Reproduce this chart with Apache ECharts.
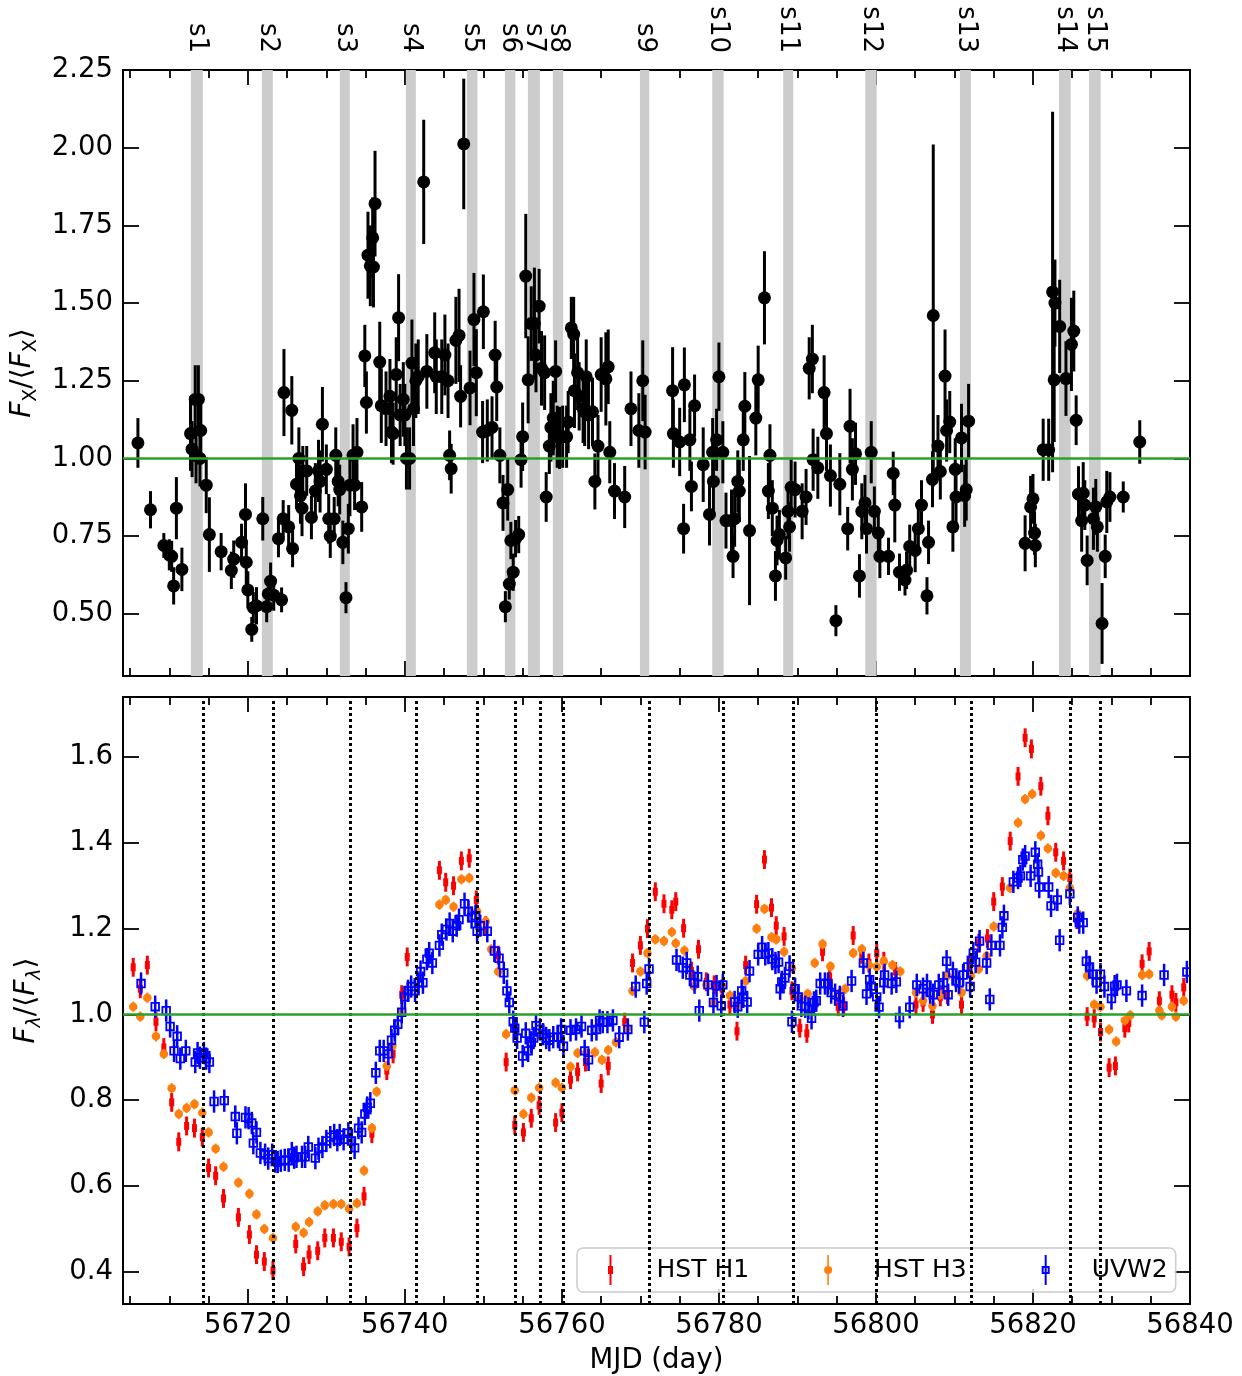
<!DOCTYPE html>
<html>
<head>
<meta charset="utf-8">
<script src="https://cdn.jsdelivr.net/npm/echarts@6/dist/echarts.min.js"></script>
<style>
  html, body { margin: 0; padding: 0; background: #fff; }
  #main { width: 1242px; height: 1376px; }
</style>
</head>
<body>
<div id="main"></div>
<script>
// X-ray light curve (top panel): time, flux ratio, error
var xrayT = [56706.0, 56707.6, 56709.3, 56710.0, 56710.3, 56710.55, 56710.9, 56711.6, 56712.7, 56712.9,
  56713.3, 56713.4, 56713.7, 56713.9, 56714.0, 56714.7, 56715.1, 56716.6, 56717.9, 56718.2,
  56719.2, 56719.7, 56719.8, 56720.0, 56720.5, 56720.7, 56721.1, 56721.9, 56722.4, 56722.6,
  56722.9, 56723.3, 56723.9, 56724.3, 56724.5, 56724.6, 56725.2, 56725.6, 56725.7, 56726.2,
  56726.5, 56726.7, 56726.9, 56727.0, 56727.5, 56728.1, 56728.6, 56729.0, 56729.2, 56729.5,
  56730.0, 56730.3, 56730.5, 56731.0, 56731.2, 56731.5, 56731.7, 56732.1, 56732.5, 56732.8,
  56733.0, 56733.4, 56733.6, 56733.9, 56734.5, 56734.9, 56735.1, 56735.3, 56735.6, 56735.9,
  56736.0, 56736.2, 56736.8, 56737.0, 56737.6, 56738.1, 56738.3, 56738.5, 56738.9, 56739.2,
  56739.4, 56739.8, 56740.0, 56740.2, 56740.6, 56740.9, 56741.1, 56741.4, 56741.7, 56742.4,
  56742.8, 56743.8, 56744.0, 56744.7, 56745.1, 56745.5, 56745.7, 56745.9, 56746.5, 56746.9,
  56747.1, 56747.5, 56748.3, 56748.8, 56749.1, 56749.9, 56750.0, 56750.5, 56751.1, 56751.5,
  56751.7, 56752.1, 56752.5, 56752.8, 56753.1, 56753.3, 56753.5, 56753.8, 56754.1, 56754.5,
  56754.8, 56755.0, 56755.4, 56755.7, 56756.1, 56756.5, 56756.7, 56757.1, 56757.4, 56757.8,
  56758.0, 56758.4, 56758.6, 56758.9, 56759.2, 56759.4, 56759.7, 56760.1, 56760.6, 56760.8,
  56761.2, 56761.5, 56761.6, 56762.0, 56762.2, 56762.7, 56762.9, 56763.1, 56763.4, 56763.9,
  56764.2, 56764.6, 56765.0, 56765.6, 56765.9, 56766.1, 56766.7, 56768.0, 56768.8, 56769.8,
  56770.3, 56770.6, 56774.1, 56774.2, 56775.0, 56775.5, 56775.6, 56776.3, 56776.5, 56776.9,
  56778.0, 56778.8, 56779.2, 56779.3, 56779.7, 56780.0, 56780.5, 56780.9, 56781.6, 56781.8,
  56782.0, 56782.4, 56782.6, 56783.1, 56783.3, 56783.9, 56784.7, 56785.0, 56785.8, 56786.3,
  56786.5, 56786.8, 56787.2, 56787.4, 56787.7, 56788.5, 56788.8, 56789.0, 56789.2, 56789.7,
  56790.6, 56791.1, 56791.5, 56791.9, 56792.0, 56792.6, 56793.4, 56793.7, 56794.2, 56794.9,
  56795.4, 56796.4, 56796.7, 56797.0, 56797.4, 56797.9, 56798.2, 56798.6, 56798.8, 56799.4,
  56799.8, 56800.3, 56800.5, 56801.6, 56802.2, 56802.4, 56803.0, 56803.7, 56803.9, 56804.3,
  56805.0, 56805.4, 56805.8, 56806.5, 56806.7, 56807.2, 56807.3, 56807.9, 56808.2, 56808.8,
  56809.0, 56809.4, 56809.8, 56810.1, 56810.2, 56810.9, 56811.3, 56811.5, 56811.8, 56819.0,
  56819.7, 56820.0, 56820.2, 56820.3, 56821.3, 56822.0, 56822.5, 56822.7, 56822.8, 56823.4,
  56824.2, 56824.9, 56825.2, 56825.5, 56825.8, 56826.2, 56826.4, 56826.6, 56826.9, 56827.7,
  56828.0, 56828.2, 56828.8, 56829.2, 56829.4, 56829.8, 56831.5, 56833.6];
var xrayF = [1.05, 0.835, 0.72, 0.69, 0.685, 0.59, 0.84, 0.643, 1.08, 1.03,
  1.19, 1.01, 1.19, 1.00, 1.09, 0.914, 0.755, 0.70, 0.64, 0.676,
  0.73, 0.82, 0.666, 0.577, 0.45, 0.52, 0.526, 0.806, 0.523, 0.564,
  0.605, 0.56, 0.742, 0.545, 0.806, 1.212, 0.78, 1.155, 0.71, 0.917,
  1.0, 0.88, 0.84, 0.96, 0.96, 0.81, 0.895, 0.96, 0.926, 1.11,
  0.965, 0.806, 0.75, 0.806, 1.01, 0.926, 0.90, 0.73, 0.552, 0.774,
  0.914, 1.01, 0.914, 1.02, 0.844, 1.33, 1.18, 1.654, 1.62, 1.71,
  1.616, 1.82, 1.31, 1.17, 1.16, 1.2, 1.085, 1.08, 1.27, 1.453,
  1.14, 1.19, 1.14, 1.0, 1.0, 1.307, 1.16, 1.25, 1.263, 1.89,
  1.28, 1.34, 1.263, 1.263, 1.333, 1.25, 1.01, 0.967, 1.38, 1.396,
  1.2, 2.012, 1.227, 1.447, 1.276, 1.085, 1.472, 1.09, 1.1, 1.333,
  1.23, 1.01, 0.857, 0.523, 0.9, 0.596, 0.736, 0.634, 0.742, 0.755,
  0.996, 1.07, 1.587, 1.253, 1.434, 1.434, 1.333, 1.49, 1.29, 1.276,
  0.876, 1.04, 1.1, 1.13, 1.28, 1.07, 1.066, 1.07, 1.07, 1.117,
  1.42, 1.40, 1.218, 1.276, 1.2, 1.16, 1.15, 1.263, 1.14, 1.15,
  0.926, 1.04, 1.27, 1.256, 1.295, 1.02, 0.895, 0.876, 1.16, 1.09,
  1.25, 1.085, 1.218, 1.08, 1.053, 0.774, 1.237, 1.06, 0.91, 1.17,
  0.98, 0.82, 1.02, 0.926, 1.06, 1.263, 1.02, 0.8, 0.8, 0.685,
  0.806, 0.926, 0.895, 1.06, 1.168, 0.768, 1.13, 1.253, 1.517, 0.895,
  1.01, 0.84, 0.622, 0.736, 0.755, 0.68, 0.83, 0.78, 0.907, 0.9,
  0.83, 0.876, 1.29, 1.32, 0.996, 0.97, 1.212, 1.08, 0.945, 0.478,
  0.917, 0.774, 1.104, 0.965, 1.015, 0.622, 0.83, 0.857, 0.774, 1.02,
  0.83, 0.76, 0.685, 0.685, 0.952, 0.85, 0.634, 0.609, 0.64, 0.717,
  0.704, 0.774, 0.85, 0.558, 0.73, 0.933, 1.46, 1.04, 0.958, 1.265,
  1.09, 1.117, 0.78, 0.965, 0.876, 1.066, 0.88, 0.9, 1.12, 0.727,
  0.844, 0.87, 0.76, 0.72, 1.028, 1.028, 1.536, 1.253, 1.50, 1.425,
  1.257, 1.367, 1.41, 1.123, 0.885, 0.8, 0.888, 0.85, 0.672, 0.806,
  0.844, 0.78, 0.469, 0.685, 0.86, 0.876, 0.876, 1.053];
var xrayE = [0.08, 0.06, 0.04, 0.05, 0.05, 0.06, 0.10, 0.07, 0.12, 0.09,
  0.11, 0.09, 0.11, 0.09, 0.09, 0.09, 0.12, 0.06, 0.06, 0.06,
  0.06, 0.10, 0.07, 0.06, 0.04, 0.05, 0.06, 0.07, 0.05, 0.05,
  0.06, 0.05, 0.06, 0.04, 0.06, 0.14, 0.07, 0.11, 0.06, 0.08,
  0.10, 0.09, 0.09, 0.08, 0.08, 0.07, 0.09, 0.10, 0.10, 0.12,
  0.08, 0.08, 0.07, 0.07, 0.09, 0.08, 0.08, 0.07, 0.05, 0.08,
  0.10, 0.10, 0.08, 0.11, 0.08, 0.10, 0.10, 0.14, 0.13, 0.13,
  0.13, 0.17, 0.13, 0.12, 0.12, 0.12, 0.10, 0.10, 0.12, 0.14,
  0.10, 0.12, 0.10, 0.10, 0.10, 0.14, 0.12, 0.12, 0.12, 0.20,
  0.12, 0.13, 0.12, 0.12, 0.13, 0.12, 0.08, 0.08, 0.14, 0.15,
  0.10, 0.21, 0.12, 0.15, 0.14, 0.10, 0.12, 0.10, 0.10, 0.11,
  0.11, 0.09, 0.09, 0.05, 0.10, 0.05, 0.06, 0.06, 0.06, 0.06,
  0.09, 0.11, 0.20, 0.14, 0.12, 0.18, 0.12, 0.12, 0.12, 0.12,
  0.08, 0.09, 0.11, 0.12, 0.10, 0.10, 0.10, 0.10, 0.10, 0.10,
  0.10, 0.12, 0.12, 0.12, 0.11, 0.11, 0.11, 0.12, 0.11, 0.11,
  0.09, 0.10, 0.12, 0.15, 0.12, 0.10, 0.09, 0.10, 0.12, 0.12,
  0.13, 0.12, 0.14, 0.11, 0.11, 0.08, 0.12, 0.10, 0.08, 0.10,
  0.12, 0.10, 0.11, 0.10, 0.10, 0.11, 0.10, 0.09, 0.10, 0.07,
  0.09, 0.10, 0.10, 0.10, 0.11, 0.24, 0.12, 0.11, 0.15, 0.09,
  0.10, 0.09, 0.08, 0.08, 0.08, 0.07, 0.09, 0.08, 0.09, 0.09,
  0.09, 0.09, 0.10, 0.11, 0.10, 0.10, 0.12, 0.12, 0.10, 0.05,
  0.10, 0.07, 0.12, 0.10, 0.10, 0.07, 0.09, 0.09, 0.08, 0.10,
  0.08, 0.08, 0.07, 0.06, 0.07, 0.12, 0.06, 0.05, 0.06, 0.07,
  0.07, 0.08, 0.08, 0.06, 0.07, 0.09, 0.55, 0.10, 0.09, 0.15,
  0.10, 0.10, 0.08, 0.10, 0.10, 0.11, 0.10, 0.10, 0.12, 0.09,
  0.10, 0.08, 0.07, 0.07, 0.10, 0.10, 0.58, 0.20, 0.14, 0.15,
  0.12, 0.15, 0.13, 0.08, 0.09, 0.10, 0.10, 0.08, 0.08, 0.10,
  0.09, 0.08, 0.13, 0.07, 0.10, 0.08, 0.05, 0.07];

// HST H1 continuum
var h1T = [56705.4, 56706.3, 56707.2, 56708.3, 56709.3, 56710.3, 56711.2, 56712.2, 56713.2, 56714.2,
  56715.0, 56715.9, 56716.9, 56718.8, 56720.2, 56721.1, 56722.1, 56723.2, 56726.1, 56727.1,
  56727.8, 56728.9, 56729.8, 56730.9, 56731.9, 56732.9, 56733.9, 56734.8, 56735.8, 56737.7,
  56738.5, 56739.6, 56740.3, 56744.4, 56745.2, 56746.2, 56747.2, 56748.2, 56749.1, 56750.3,
  56751.9, 56752.9, 56754.0, 56755.1, 56756.1, 56757.1, 56759.2, 56760.0, 56761.1, 56762.0,
  56763.0, 56765.0, 56765.9, 56768.0, 56769.0, 56770.0, 56770.9, 56771.9, 56773.0, 56774.0,
  56774.5, 56775.5, 56776.5, 56777.4, 56778.4, 56779.4, 56780.4, 56781.4, 56782.3, 56783.4,
  56784.8, 56785.8, 56786.7, 56787.3, 56788.3, 56789.3, 56790.3, 56791.2, 56793.2, 56794.1,
  56795.2, 56795.9, 56797.1, 56798.2, 56799.1, 56800.1, 56801.0, 56802.5, 56805.1, 56806.0,
  56807.2, 56808.2, 56809.1, 56810.9, 56812.0, 56813.1, 56814.2, 56815.0, 56816.1, 56817.1,
  56818.1, 56819.0, 56819.8, 56821.0, 56821.9, 56822.9, 56823.9, 56824.7, 56825.6, 56826.9,
  56827.8, 56828.6, 56829.7, 56830.5, 56831.7, 56832.2, 56833.9, 56834.8, 56836.1, 56837.7,
  56838.2, 56839.2];
var h1F = [1.11, 1.06, 1.115, 0.983, 0.923, 0.795, 0.703, 0.74, 0.735, 0.714,
  0.642, 0.624, 0.571, 0.527, 0.487, 0.44, 0.424, 0.403, 0.465, 0.412,
  0.44, 0.449, 0.479, 0.479, 0.47, 0.458, 0.502, 0.576, 0.722, 0.869,
  0.908, 1.046, 1.134, 1.336, 1.308, 1.30, 1.358, 1.364, 1.267, 1.207,
  1.138, 0.889, 0.742, 0.725, 0.758, 0.788, 0.748, 0.771, 0.848, 0.866,
  0.889, 0.839, 0.88, 0.982, 1.12, 1.161, 1.20, 1.286, 1.258, 1.244,
  1.263, 1.201, 1.101, 1.152, 1.076, 1.069, 1.06, 1.023, 0.961, 1.115,
  1.257, 1.361, 1.249, 1.207, 1.182, 1.055, 0.968, 0.956, 1.146, 1.088,
  1.018, 1.018, 1.184, 1.14, 1.12, 1.143, 1.124, 1.10, 1.023, 1.028,
  1.00, 1.041, 1.046, 1.023, 1.12, 1.166, 1.177, 1.263, 1.298, 1.404,
  1.555, 1.645, 1.619, 1.532, 1.463, 1.378, 1.358, 1.318, 1.221, 0.995,
  0.991, 0.959, 0.876, 0.88, 0.968, 0.98, 1.118, 1.147, 1.032, 1.046,
  1.028, 1.063];

// HST H3 continuum
var h3T = [56705.4, 56706.3, 56707.2, 56708.3, 56709.3, 56710.3, 56711.2, 56712.2, 56713.2, 56714.2,
  56715.0, 56715.9, 56716.9, 56718.8, 56720.2, 56721.1, 56722.1, 56723.2, 56726.1, 56727.1,
  56727.8, 56728.9, 56729.8, 56730.9, 56731.9, 56732.9, 56733.9, 56734.8, 56735.8, 56736.4,
  56737.7, 56738.4, 56739.6, 56744.4, 56745.2, 56746.2, 56747.2, 56748.2, 56749.2, 56750.3,
  56751.0, 56751.9, 56752.9, 56754.0, 56755.1, 56756.1, 56757.1, 56759.2, 56760.0, 56761.1,
  56762.0, 56763.1, 56764.2, 56765.1, 56765.9, 56766.9, 56768.3, 56769.0, 56770.0, 56770.9,
  56771.9, 56773.0, 56774.0, 56774.5, 56775.6, 56776.8, 56778.4, 56779.4, 56780.4, 56781.4,
  56782.4, 56783.4, 56784.8, 56785.8, 56786.7, 56787.3, 56788.3, 56789.3, 56790.3, 56791.3,
  56792.2, 56793.2, 56794.2, 56795.2, 56796.1, 56797.1, 56798.2, 56799.1, 56800.1, 56801.0,
  56802.1, 56803.1, 56805.1, 56806.0, 56807.2, 56808.2, 56809.1, 56810.9, 56812.1, 56813.1,
  56814.1, 56815.0, 56817.1, 56818.1, 56819.0, 56819.9, 56821.0, 56821.9, 56822.9, 56823.9,
  56824.7, 56825.7, 56826.9, 56827.8, 56828.6, 56829.7, 56830.6, 56831.7, 56832.4, 56833.9,
  56834.8, 56836.1, 56836.4, 56837.7, 56838.2, 56839.2];
var h3F = [1.018, 0.995, 1.039, 0.949, 0.908, 0.828, 0.768, 0.782, 0.791, 0.771,
  0.725, 0.687, 0.645, 0.608, 0.582, 0.534, 0.50, 0.479, 0.505, 0.491,
  0.516, 0.541, 0.555, 0.558, 0.558, 0.547, 0.56, 0.636, 0.735, 0.82,
  0.88, 0.926, 1.005, 1.256, 1.267, 1.251, 1.315, 1.318, 1.24, 1.217,
  1.152, 1.10, 0.954, 0.823, 0.768, 0.806, 0.829, 0.841, 0.829, 0.878,
  0.91, 0.91, 0.912, 0.894, 0.917, 0.935, 0.968, 1.055, 1.10, 1.143,
  1.175, 1.171, 1.192, 1.166, 1.149, 1.066, 1.069, 1.028, 1.066, 1.044,
  1.021, 1.078, 1.20, 1.246, 1.18, 1.175, 1.146, 1.108, 1.037, 1.048,
  1.12, 1.164, 1.112, 1.048, 1.06, 1.143, 1.152, 1.115, 1.111, 1.124,
  1.115, 1.10, 1.051, 1.032, 1.02, 1.046, 1.09, 1.051, 1.09, 1.106,
  1.136, 1.205, 1.295, 1.447, 1.502, 1.514, 1.417, 1.387, 1.33, 1.323,
  1.295, 1.235, 1.09, 1.023, 1.018, 0.965, 0.937, 0.986, 0.998, 1.092,
  1.094, 1.009, 0.998, 1.018, 0.995, 1.032];

// Swift UVW2
var uvT = [56706.4, 56708.2, 56709.6, 56710.1, 56710.6, 56711.0, 56711.4, 56712.1, 56713.3, 56713.6,
  56713.9, 56714.4, 56714.7, 56715.1, 56715.7, 56717.0, 56718.4, 56718.6, 56719.7, 56720.1,
  56720.5, 56720.7, 56721.1, 56721.6, 56722.2, 56722.6, 56723.1, 56723.5, 56723.8, 56724.2,
  56724.7, 56725.2, 56725.6, 56725.9, 56726.2, 56726.9, 56727.3, 56727.7, 56728.6, 56729.0,
  56729.5, 56730.0, 56730.5, 56731.0, 56731.4, 56731.7, 56732.2, 56732.8, 56733.2, 56733.6,
  56734.1, 56734.5, 56734.9, 56735.2, 56735.6, 56736.3, 56736.8, 56737.3, 56737.9, 56738.3,
  56738.7, 56739.1, 56739.6, 56740.0, 56740.4, 56740.8, 56741.3, 56741.7, 56742.0, 56742.3,
  56742.8, 56743.1, 56743.5, 56744.4, 56744.7, 56745.3, 56745.7, 56746.1, 56746.6, 56746.9,
  56747.6, 56748.1, 56748.5, 56749.0, 56749.2, 56749.6, 56750.5, 56751.4, 56752.0, 56752.6,
  56753.0, 56753.3, 56753.8, 56754.0, 56754.3, 56755.0, 56755.4, 56755.7, 56756.1, 56756.4,
  56756.7, 56757.2, 56757.6, 56758.0, 56758.4, 56758.9, 56759.5, 56759.9, 56760.2, 56761.1,
  56761.8, 56762.5, 56762.9, 56763.4, 56763.8, 56764.4, 56764.8, 56765.2, 56765.8, 56766.5,
  56767.3, 56768.4, 56769.4, 56770.5, 56770.8, 56771.1, 56774.6, 56775.4, 56775.9, 56776.3,
  56776.9, 56777.3, 56777.5, 56778.6, 56779.3, 56779.7, 56780.3, 56780.5, 56782.0, 56782.4,
  56782.9, 56783.1, 56783.6, 56783.9, 56785.0, 56785.5, 56785.9, 56786.3, 56786.8, 56787.2,
  56787.6, 56787.8, 56788.0, 56788.4, 56789.0, 56789.3, 56789.7, 56790.1, 56790.5, 56791.0,
  56791.4, 56791.8, 56792.1, 56792.4, 56792.9, 56793.5, 56793.9, 56794.3, 56794.8, 56795.4,
  56795.8, 56796.9, 56798.4, 56798.8, 56799.2, 56799.4, 56800.1, 56800.4, 56801.0, 56801.1,
  56802.0, 56802.6, 56803.0, 56804.3, 56805.2, 56806.0, 56806.5, 56806.9, 56807.3, 56808.0,
  56808.6, 56809.0, 56809.2, 56809.8, 56810.2, 56810.6, 56811.1, 56811.7, 56812.0, 56812.4,
  56812.7, 56813.2, 56814.1, 56814.5, 56814.7, 56815.8, 56816.1, 56816.3, 56817.5, 56818.1,
  56818.4, 56818.7, 56819.0, 56819.7, 56820.3, 56820.6, 56820.7, 56820.8, 56822.0, 56822.3,
  56823.1, 56823.4, 56824.7, 56825.7, 56825.9, 56826.4, 56826.8, 56827.2, 56827.6, 56828.1,
  56828.6, 56829.1, 56830.0, 56830.4, 56830.7, 56831.9, 56833.9, 56836.7, 56839.6];
var uvF = [1.072, 1.018, 1.009, 0.972, 0.915, 0.949, 0.897, 0.915, 0.889, 0.91,
  0.899, 0.91, 0.897, 0.889, 0.797, 0.799, 0.762, 0.723, 0.76, 0.758,
  0.747, 0.70, 0.725, 0.677, 0.673, 0.664, 0.673, 0.657, 0.656, 0.659,
  0.661, 0.659, 0.677, 0.666, 0.668, 0.668, 0.668, 0.691, 0.665, 0.687,
  0.691, 0.705, 0.714, 0.719, 0.707, 0.719, 0.709, 0.723, 0.705, 0.689,
  0.735, 0.725, 0.768, 0.783, 0.793, 0.864, 0.915, 0.915, 0.908, 0.94,
  0.963, 0.977, 1.005, 1.041, 1.055, 1.065, 1.055, 1.074, 1.10, 1.074,
  1.129, 1.143, 1.12, 1.161, 1.186, 1.198, 1.212, 1.194, 1.207, 1.221,
  1.258, 1.24, 1.226, 1.23, 1.194, 1.207, 1.194, 1.148, 1.131, 1.097,
  1.055, 1.028, 0.983, 0.968, 0.945, 0.903, 0.956, 0.915, 0.935, 0.945,
  0.974, 0.965, 0.954, 0.945, 0.94, 0.947, 0.947, 0.965, 0.926, 0.963,
  0.965, 0.972, 0.915, 0.894, 0.963, 0.965, 0.986, 0.982, 0.982, 0.986,
  0.947, 0.965, 1.065, 0.982, 1.072, 1.106, 1.127, 1.109, 1.12, 1.092,
  1.074, 1.088, 1.009, 1.069, 1.028, 1.066, 1.02, 1.069, 1.029, 1.018,
  1.055, 1.041, 1.029, 1.101, 1.14, 1.157, 1.14, 1.143, 1.129, 1.12,
  1.122, 1.06, 1.076, 1.085, 1.112, 0.983, 1.06, 1.041, 1.02, 1.018,
  1.014, 0.991, 1.028, 1.032, 1.072, 1.072, 1.072, 1.051, 1.046, 1.041,
  1.02, 1.078, 1.12, 1.048, 1.081, 1.066, 1.041, 1.017, 1.074, 1.092,
  1.072, 1.076, 0.993, 1.017, 1.069, 1.06, 1.069, 1.051, 1.046, 1.069,
  1.074, 1.124, 1.046, 1.097, 1.078, 1.074, 1.092, 1.111, 1.065, 1.143,
  1.122, 1.171, 1.12, 1.035, 1.161, 1.161, 1.203, 1.23, 1.309, 1.318,
  1.323, 1.361, 1.369, 1.323, 1.378, 1.35, 1.332, 1.297, 1.297, 1.253,
  1.267, 1.173, 1.281, 1.226, 1.214, 1.214, 1.124, 1.111, 1.094, 1.074,
  1.094, 1.065, 1.037, 1.066, 1.069, 1.055, 1.044, 1.092, 1.099];

var h1Err = 0.022, h3Err = 0.012, uvErr = 0.026;

// Epochs marked s1..s15 (start / end of each shaded window)
var bandStart = [56712.74, 56721.78, 56731.72, 56740.13, 56747.90, 56752.74, 56755.67, 56758.85,
  56769.94, 56779.15, 56788.19, 56798.64, 56810.70, 56823.31, 56827.13];
var bandEnd = [56714.27, 56723.18, 56732.99, 56741.40, 56749.24, 56754.08, 56757.20, 56760.17,
  56771.12, 56780.60, 56789.46, 56800.09, 56812.10, 56824.80, 56828.62];
var bandNames = ['s1', 's2', 's3', 's4', 's5', 's6', 's7', 's8', 's9', 's10', 's11', 's12', 's13', 's14', 's15'];

// Axis ticks
var xMin = 56704.1, xMax = 56840;
var xMajor = [56720, 56740, 56760, 56780, 56800, 56820, 56840];
var xMinor = [56705, 56710, 56715, 56725, 56730, 56735, 56745, 56750, 56755, 56765, 56770, 56775,
  56785, 56790, 56795, 56805, 56810, 56815, 56825, 56830, 56835];
var yTopTicks = [0.50, 0.75, 1.00, 1.25, 1.50, 1.75, 2.00, 2.25];
var yBotTicks = [0.4, 0.6, 0.8, 1.0, 1.2, 1.4, 1.6];

var FONT = 'DejaVu Sans';
var bandMid = bandStart.map(function (s, i) { return (s + bandEnd[i]) / 2; });

var myChart = echarts.init(document.getElementById('main'), null, { renderer: 'canvas' });

function xAx(grid, pos, ticks, len, labelOpt) {
  var ax = {
    type: 'value', gridIndex: grid, position: pos, min: xMin, max: xMax,
    splitLine: { show: false },
    axisLine: { show: true, onZero: false, lineStyle: { color: '#000', width: 2 } },
    axisTick: { show: true, inside: true, length: len, customValues: ticks, lineStyle: { color: '#000', width: 1.8 } },
    axisLabel: { show: false }
  };
  if (labelOpt) ax.axisLabel = labelOpt;
  return ax;
}
function yAx(grid, pos, min, max, ticks, labelOpt) {
  var ax = {
    type: 'value', gridIndex: grid, position: pos, min: min, max: max,
    splitLine: { show: false },
    axisLine: { show: true, onZero: false, lineStyle: { color: '#000', width: 2 } },
    axisTick: { show: true, inside: true, length: 16, customValues: ticks, lineStyle: { color: '#000', width: 1.8 } },
    axisLabel: { show: false }
  };
  if (labelOpt) ax.axisLabel = labelOpt;
  return ax;
}

var tickLabel = { show: true, fontSize: 27.5, fontFamily: FONT, color: '#000' };

var xAxes = [
  xAx(0, 'bottom', xMajor, 15),
  xAx(0, 'bottom', xMinor, 8),
  xAx(0, 'top', xMajor, 15, {
    show: true, customValues: bandMid, rotate: 90, margin: 17,
    fontSize: 26, fontFamily: FONT, color: '#000',
    formatter: function (v) {
      var best = 0;
      for (var i = 0; i < bandMid.length; i++) {
        if (Math.abs(bandMid[i] - v) < Math.abs(bandMid[best] - v)) best = i;
      }
      return bandNames[best];
    }
  }),
  xAx(0, 'top', xMinor, 8),
  xAx(1, 'bottom', xMajor, 15, echarts.util.merge({
    customValues: xMajor, margin: 8,
    formatter: function (v) { return String(Math.round(v)); }
  }, tickLabel, true)),
  xAx(1, 'bottom', xMinor, 8),
  xAx(1, 'top', xMajor, 15),
  xAx(1, 'top', xMinor, 8)
];
xAxes[4].name = 'MJD (day)';
xAxes[4].nameLocation = 'middle';
xAxes[4].nameGap = 43;
xAxes[4].nameTextStyle = { fontSize: 27.5, fontFamily: FONT, color: '#000' };

var yAxes = [
  yAx(0, 'left', 0.30, 2.25, yTopTicks, echarts.util.merge({
    customValues: yTopTicks, margin: 10,
    formatter: function (v) { return v.toFixed(2); }
  }, tickLabel, true)),
  yAx(0, 'right', 0.30, 2.25, yTopTicks),
  yAx(1, 'left', 0.325, 1.74, yBotTicks, echarts.util.merge({
    customValues: yBotTicks, margin: 10,
    formatter: function (v) { return v.toFixed(1); }
  }, tickLabel, true)),
  yAx(1, 'right', 0.325, 1.74, yBotTicks)
];
var nameRich = {
  i: { fontSize: 28, fontStyle: 'italic', fontFamily: FONT, color: '#000', lineHeight: 36 },
  n: { fontSize: 28, fontFamily: FONT, color: '#000', lineHeight: 36 },
  s: { fontSize: 19, fontFamily: FONT, color: '#000', lineHeight: 24, verticalAlign: 'bottom' },
  si: { fontSize: 19, fontStyle: 'italic', fontFamily: FONT, color: '#000', lineHeight: 24, verticalAlign: 'bottom' }
};
yAxes[0].name = '{i|F}{s|X}{n|/⟨}{i|F}{s|X}{n|⟩}';
yAxes[0].nameLocation = 'middle';
yAxes[0].nameGap = 78;
yAxes[0].nameTextStyle = { rich: nameRich };
yAxes[2].name = '{i|F}{si|λ}{n|/⟨}{i|F}{si|λ}{n|⟩}';
yAxes[2].nameLocation = 'middle';
yAxes[2].nameGap = 78;
yAxes[2].nameTextStyle = { rich: nameRich };

// error bar + marker drawn through the axis scales
function errRender(kind, fixedErr) {
  return function (params, api) {
    var x = api.value(0), y = api.value(1);
    var e = fixedErr != null ? fixedErr : api.value(2);
    var c = api.coord([x, y]);
    var t = api.coord([x, y + e]);
    var b = api.coord([x, y - e]);
    var kids = [];
    if (kind === 'xray') {
      kids.push({ type: 'line', shape: { x1: c[0], y1: t[1], x2: c[0], y2: b[1] }, style: { stroke: '#000', lineWidth: 3 } });
      kids.push({ type: 'circle', shape: { cx: c[0], cy: c[1], r: 6.5 }, style: { fill: '#000' } });
    } else if (kind === 'h1') {
      kids.push({ type: 'line', shape: { x1: c[0], y1: t[1], x2: c[0], y2: b[1] }, style: { stroke: '#ff0000', lineWidth: 3 } });
      kids.push({ type: 'rect', shape: { x: c[0] - 2.5, y: c[1] - 4, width: 5, height: 8 }, style: { fill: '#ff0000' } });
    } else if (kind === 'h3') {
      kids.push({ type: 'line', shape: { x1: c[0], y1: t[1], x2: c[0], y2: b[1] }, style: { stroke: '#ff7f0e', lineWidth: 2 } });
      kids.push({ type: 'circle', shape: { cx: c[0], cy: c[1], r: 4.3 }, style: { fill: '#ff7f0e' } });
    } else {
      kids.push({ type: 'line', shape: { x1: c[0], y1: t[1], x2: c[0], y2: b[1] }, style: { stroke: '#0000ff', lineWidth: 2.5 } });
      kids.push({ type: 'rect', shape: { x: c[0] - 3.8, y: c[1] - 3.8, width: 7.6, height: 7.6 }, style: { fill: 'none', stroke: '#0000ff', lineWidth: 1.8 } });
    }
    return { type: 'group', children: kids };
  };
}

var xrayData = xrayT.map(function (t, i) { return [t, xrayF[i], xrayE[i]]; });
var h1Data = h1T.map(function (t, i) { return [t, h1F[i]]; });
var h3Data = h3T.map(function (t, i) { return [t, h3F[i]]; });
var uvData = uvT.map(function (t, i) { return [t, uvF[i]]; });

var option = {
  animation: false,
  backgroundColor: '#fff',
  textStyle: { fontFamily: FONT },
  grid: [
    { left: 123, top: 70, width: 1067, height: 606 },
    { left: 123, top: 697, width: 1067, height: 607 }
  ],
  xAxis: xAxes,
  yAxis: yAxes,
  legend: {
    left: 577, top: 1248,
    itemWidth: 8, itemHeight: 30, itemGap: 75,
    padding: [7, 8, 7, 31],
    backgroundColor: 'rgba(255,255,255,0.8)',
    borderColor: '#cccccc', borderWidth: 1.5, borderRadius: 6,
    textStyle: { fontSize: 25, fontFamily: FONT, color: '#000', padding: [0, 0, 0, 37] },
    selectedMode: false,
    data: [
      { name: 'HST H1', icon: 'path://M3,0L5,0L5,30L3,30Z M1.5,11L6.5,11L6.5,19L1.5,19Z' },
      { name: 'HST H3', icon: 'path://M3.2,0L4.8,0L4.8,30L3.2,30Z M8,15A4,4,0,1,1,0,15A4,4,0,1,1,8,15Z' },
      { name: 'UVW2', icon: 'path://M3,0L5,0L5,30L3,30Z M0,11L8,11L8,19L0,19Z M2,13L2,17L6,17L6,13Z' }
    ]
  },
  series: [
    {
      type: 'line', xAxisIndex: 0, yAxisIndex: 0, data: [], z: 1, silent: true,
      markArea: {
        silent: true,
        itemStyle: { color: '#cccccc' },
        data: bandStart.map(function (s, i) { return [{ xAxis: s }, { xAxis: bandEnd[i] }]; })
      }
    },
    {
      type: 'line', xAxisIndex: 0, yAxisIndex: 0, data: [], z: 2, silent: true,
      markLine: {
        silent: true, symbol: ['none', 'none'], label: { show: false },
        lineStyle: { color: '#2ca02c', width: 2.5, type: 'solid' },
        data: [{ yAxis: 1 }]
      }
    },
    {
      type: 'line', xAxisIndex: 4, yAxisIndex: 2, data: [], z: 1, silent: true,
      markLine: {
        silent: true, symbol: ['none', 'none'], label: { show: false },
        lineStyle: { color: '#000', width: 3, type: [3, 3] },
        data: bandEnd.map(function (v) { return { xAxis: v }; })
      }
    },
    {
      type: 'line', xAxisIndex: 4, yAxisIndex: 2, data: [], z: 2, silent: true,
      markLine: {
        silent: true, symbol: ['none', 'none'], label: { show: false },
        lineStyle: { color: '#2ca02c', width: 2.5, type: 'solid' },
        data: [{ yAxis: 1 }]
      }
    },
    {
      name: 'X-ray', type: 'custom', xAxisIndex: 0, yAxisIndex: 0, z: 3, clip: true,
      renderItem: errRender('xray'), encode: { x: 0, y: 1 }, data: xrayData,
      itemStyle: { color: '#000' }
    },
    {
      name: 'HST H1', type: 'custom', xAxisIndex: 4, yAxisIndex: 2, z: 3, clip: true,
      renderItem: errRender('h1', h1Err), encode: { x: 0, y: 1 }, data: h1Data,
      itemStyle: { color: '#ff0000' }
    },
    {
      name: 'HST H3', type: 'custom', xAxisIndex: 4, yAxisIndex: 2, z: 3, clip: true,
      renderItem: errRender('h3', h3Err), encode: { x: 0, y: 1 }, data: h3Data,
      itemStyle: { color: '#ff7f0e' }
    },
    {
      name: 'UVW2', type: 'custom', xAxisIndex: 4, yAxisIndex: 2, z: 3, clip: true,
      renderItem: errRender('uvw2', uvErr), encode: { x: 0, y: 1 }, data: uvData,
      itemStyle: { color: '#0000ff' }
    }
  ]
};

myChart.setOption(option);
</script>
</body>
</html>
